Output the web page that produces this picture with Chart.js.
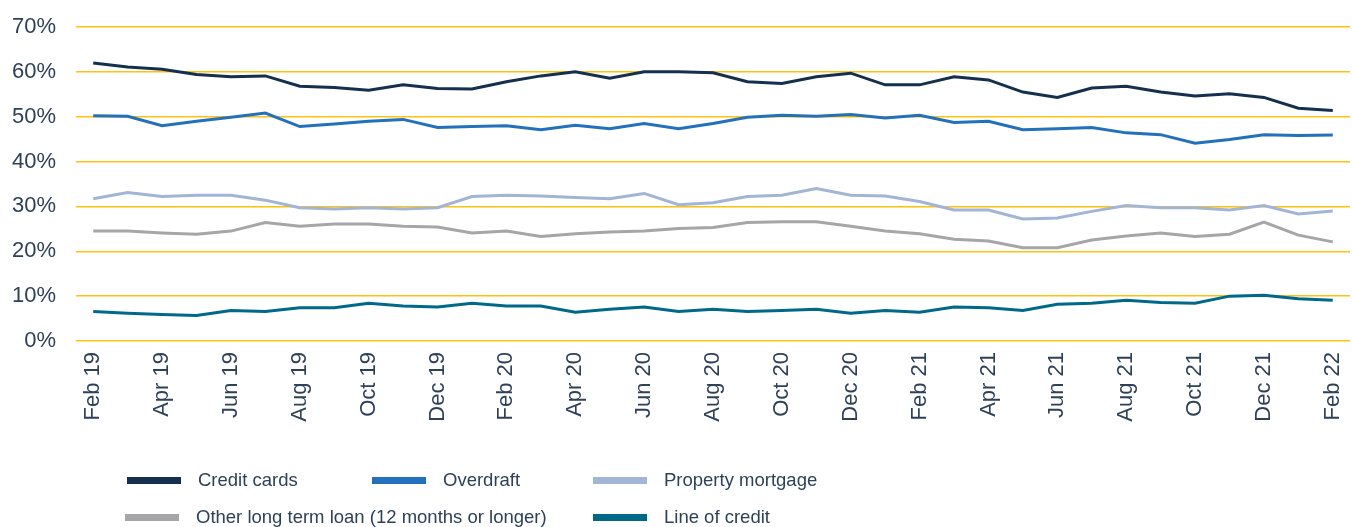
<!DOCTYPE html>
<html>
<head>
<meta charset="utf-8">
<script src="https://cdn.jsdelivr.net/npm/chart.js@4/dist/chart.umd.min.js"></script>
<style>
  html, body { margin: 0; padding: 0; background: #fff; }
  #wrap { position: relative; width: 1352px; height: 527px; }
  #legend { position: absolute; left: 0; top: 0; width: 1352px; height: 527px; pointer-events: none;
    font-family: "Liberation Sans", Arial, sans-serif; font-size: 18.5px; color: #2f4159; }
  .item { position: absolute; display: flex; align-items: center; height: 24px; }
  .swatch { width: 54px; height: 7px; margin-right: 17px; }
</style>
</head>
<body>
<div id="wrap">
  <canvas id="chart" width="1352" height="527"></canvas>
  <div id="legend"></div>
</div>
<script>
// Monthly series, Feb 2019 - Feb 2022 (% of respondents)
const months = [
  'Feb 19','Mar 19','Apr 19','May 19','Jun 19','Jul 19','Aug 19','Sep 19','Oct 19','Nov 19','Dec 19','Jan 20',
  'Feb 20','Mar 20','Apr 20','May 20','Jun 20','Jul 20','Aug 20','Sep 20','Oct 20','Nov 20','Dec 20','Jan 21',
  'Feb 21','Mar 21','Apr 21','May 21','Jun 21','Jul 21','Aug 21','Sep 21','Oct 21','Nov 21','Dec 21','Jan 22','Feb 22'
];

const creditCards = [62.0, 61.1, 60.6, 59.4, 58.9, 59.1, 56.8, 56.5, 55.9, 57.1, 56.3, 56.2,
  57.8, 59.1, 60.0, 58.6, 60.0, 60.0, 59.8, 57.8, 57.4, 58.9, 59.7, 57.1,
  57.1, 58.9, 58.2, 55.5, 54.3, 56.4, 56.8, 55.5, 54.6, 55.1, 54.3, 51.9, 51.4];

const overdraft = [50.2, 50.1, 48.0, 49.0, 49.9, 50.8, 47.8, 48.4, 49.0, 49.4, 47.6, 47.8,
  48.0, 47.1, 48.1, 47.3, 48.5, 47.3, 48.5, 49.9, 50.3, 50.1, 50.5, 49.7,
  50.3, 48.7, 49.0, 47.1, 47.3, 47.6, 46.4, 46.0, 44.1, 44.9, 46.0, 45.8, 45.9];

const propertyMortgage = [31.7, 33.1, 32.2, 32.5, 32.5, 31.4, 29.7, 29.4, 29.7, 29.4, 29.7, 32.2,
  32.5, 32.3, 32.0, 31.7, 32.9, 30.4, 30.8, 32.2, 32.5, 34.0, 32.5, 32.3,
  31.1, 29.2, 29.2, 27.2, 27.4, 28.9, 30.2, 29.7, 29.7, 29.2, 30.2, 28.3, 29.0];

const otherLongTerm = [24.5, 24.5, 24.1, 23.8, 24.5, 26.4, 25.6, 26.1, 26.1, 25.6, 25.4, 24.1,
  24.5, 23.3, 23.9, 24.3, 24.5, 25.1, 25.3, 26.4, 26.6, 26.6, 25.6, 24.5,
  23.9, 22.7, 22.3, 20.8, 20.8, 22.5, 23.4, 24.1, 23.3, 23.8, 26.5, 23.6, 22.1];

const lineOfCredit = [6.6, 6.2, 5.9, 5.7, 6.8, 6.6, 7.4, 7.4, 8.4, 7.8, 7.6, 8.4,
  7.8, 7.8, 6.4, 7.1, 7.6, 6.6, 7.1, 6.6, 6.8, 7.1, 6.2, 6.8,
  6.4, 7.6, 7.4, 6.8, 8.2, 8.4, 9.1, 8.6, 8.4, 10.0, 10.2, 9.4, 9.1];

const seriesNames = ['Credit cards', 'Overdraft', 'Property mortgage',
  'Other long term loan (12 months or longer)', 'Line of credit'];
const seriesData = [creditCards, overdraft, propertyMortgage, otherLongTerm, lineOfCredit];
const seriesColors = ['#15304e', '#2371bc', '#a2b5d6', '#a6a6a9', '#00698a'];

const textColor = '#2f4159';
const fontFamily = '"Liberation Sans", Arial, sans-serif';

const datasets = seriesNames.map((name, i) => ({
  label: name,
  data: seriesData[i],
  borderColor: seriesColors[i],
  backgroundColor: seriesColors[i],
  borderWidth: 3,
  pointRadius: 0,
  tension: 0,
  fill: false
}));

new Chart(document.getElementById('chart'), {
  type: 'line',
  data: { labels: months, datasets },
  options: {
    responsive: false,
    animation: false,
    layout: { padding: { top: 27, right: 2, left: 0, bottom: 0 } },
    plugins: { legend: { display: false }, tooltip: { enabled: false } },
    scales: {
      x: {
        offset: true,
        grid: { display: false, drawTicks: false },
        border: { display: false },
        afterFit: s => { s.height = 186; s.paddingLeft = 0; s.paddingRight = 0; },
        ticks: {
          autoSkip: false,
          minRotation: 90,
          maxRotation: 90,
          padding: 11,
          color: textColor,
          font: { family: fontFamily, size: 22 },
          callback: function (val, idx) { return idx % 2 === 0 ? this.getLabelForValue(val) : ''; }
        }
      },
      y: {
        min: 0,
        max: 70,
        grid: { color: '#ffc20e', lineWidth: 1.5, drawTicks: false },
        border: { display: false },
        afterFit: s => { s.width = 76; s.paddingTop = 0; s.paddingBottom = 0; },
        ticks: {
          stepSize: 10,
          padding: 20,
          color: textColor,
          font: { family: fontFamily, size: 22 },
          callback: v => v + '%'
        }
      }
    }
  }
});

// Legend laid out as in the source (two rows)
const legendPos = [
  { x: 127, y: 468 }, { x: 372, y: 468 }, { x: 593, y: 468 },
  { x: 125, y: 505 }, { x: 593, y: 505 }
];
const legendEl = document.getElementById('legend');
seriesNames.forEach((name, i) => {
  const item = document.createElement('div');
  item.className = 'item';
  item.style.left = legendPos[i].x + 'px';
  item.style.top = legendPos[i].y + 'px';
  const sw = document.createElement('span');
  sw.className = 'swatch';
  sw.style.background = seriesColors[i];
  const tx = document.createElement('span');
  tx.textContent = name;
  item.appendChild(sw);
  item.appendChild(tx);
  legendEl.appendChild(item);
});
</script>
</body>
</html>
